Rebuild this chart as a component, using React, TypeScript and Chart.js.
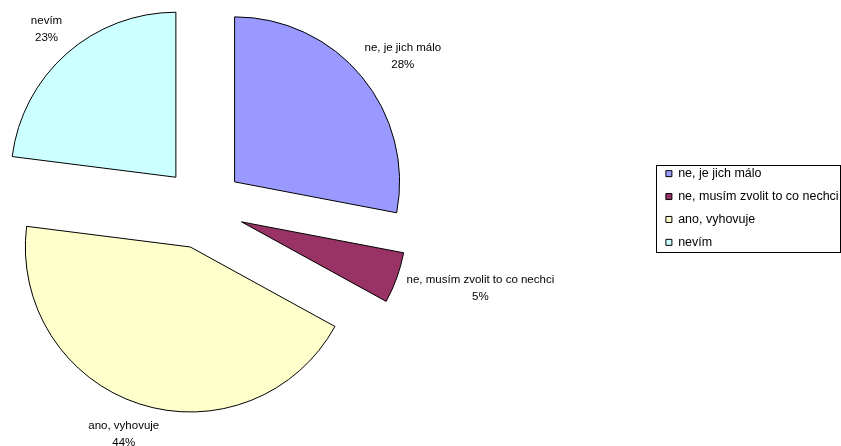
import { useEffect, useRef } from 'react';
import { Chart, registerables } from 'chart.js';

Chart.register(...registerables);

// ---- data ----
const categories = ['ne, je jich málo', 'ne, musím zvolit to co nechci', 'ano, vyhovuje', 'nevím'];
const percentages = [28, 5, 44, 23];
const sliceColors = ['#9999FF', '#993366', '#FFFFCC', '#CCFFFF'];

// ---- styling constants ----
const FONT = '"Liberation Sans", Arial, sans-serif';
const EXPLODE = 41;
const LABEL_GAP = 15;
const LABEL_LINE = 17;

const explodePlugin = {
  id: 'explode',
  afterDatasetUpdate(_chart: any, args: any) {
    args.meta.data.forEach((arc: any) => {
      const mid = (arc.startAngle + arc.endAngle) / 2;
      arc.x += Math.cos(mid) * EXPLODE;
      arc.y += Math.sin(mid) * EXPLODE;
    });
  },
};

const sliceLabelPlugin = {
  id: 'sliceLabels',
  afterDatasetsDraw(chart: any) {
    const ctx = chart.ctx;
    const meta = chart.getDatasetMeta(0);
    const data: number[] = chart.data.datasets[0].data;
    const total = data.reduce((a, b) => a + b, 0);
    ctx.save();
    ctx.font = `11.5px ${FONT}`;
    ctx.fillStyle = '#000';
    ctx.textAlign = 'center';
    ctx.textBaseline = 'middle';
    meta.data.forEach((arc: any, i: number) => {
      const lines = [String(chart.data.labels[i]), Math.round((data[i] / total) * 100) + '%'];
      const mid = (arc.startAngle + arc.endAngle) / 2;
      const cos = Math.cos(mid);
      const sin = Math.sin(mid);
      const r = arc.outerRadius + LABEL_GAP;
      const w = Math.max(...lines.map((l) => ctx.measureText(l).width));
      const h = LABEL_LINE * lines.length;
      const cx = arc.x + cos * r + (cos * w) / 2;
      const cy = arc.y + sin * r + (sin * h) / 2;
      lines.forEach((l, j) => {
        ctx.fillText(l, cx, cy + (j - (lines.length - 1) / 2) * LABEL_LINE);
      });
    });
    ctx.restore();
  },
};

const legendFramePlugin = {
  id: 'legendFrame',
  afterDraw(chart: any) {
    const boxes = chart.legend && chart.legend.legendHitBoxes;
    if (!boxes || !boxes.length) return;
    const left = Math.min(...boxes.map((b: any) => b.left)) - 9.5;
    const top = Math.min(...boxes.map((b: any) => b.top)) - 2.5;
    const right = Math.max(...boxes.map((b: any) => b.left + b.width)) + 1.5;
    const bottom = Math.max(...boxes.map((b: any) => b.top + b.height)) + 3;
    const ctx = chart.ctx;
    ctx.save();
    ctx.strokeStyle = '#000';
    ctx.lineWidth = 1;
    const x0 = Math.round(left) + 0.5;
    const y0 = Math.round(top) + 0.5;
    ctx.strokeRect(x0, y0, Math.round(right) - Math.round(left), Math.round(bottom) - Math.round(top));
    ctx.restore();
  },
};

export default function App() {
  const ref = useRef<HTMLCanvasElement>(null);
  useEffect(() => {
    Chart.defaults.color = '#000';
    const chart = new Chart(ref.current as HTMLCanvasElement, {
      type: 'pie',
      data: {
        labels: categories,
        datasets: [
          {
            data: percentages,
            backgroundColor: sliceColors,
            borderColor: '#000',
            borderWidth: 1,
            hoverOffset: 0,
            radius: 165,
          } as any,
        ],
      },
      options: {
        responsive: false,
        animation: false,
        layout: { padding: { left: 0, top: 0, right: 2.3, bottom: 30 } },
        plugins: {
          tooltip: { enabled: false },
          title: {
            display: true,
            text: '',
            position: 'right',
            weight: 500,
            font: { size: 10 },
            padding: { top: 237.5, bottom: 0 },
          } as any,
          legend: {
            position: 'right',
            maxWidth: 183.2,
            labels: {
              boxWidth: 6,
              boxHeight: 6,
              padding: 10.4,
              color: '#000',
              font: { family: FONT, size: 12.5 },
            },
          },
        },
      } as any,
      plugins: [explodePlugin, sliceLabelPlugin, legendFramePlugin],
    });
    return () => chart.destroy();
  }, []);
  return (
    <div style={{ position: 'fixed', left: 0, top: 0, width: 841, height: 446, background: '#fff' }}>
      <canvas ref={ref} width={841} height={446} style={{ display: 'block' }} />
    </div>
  );
}
